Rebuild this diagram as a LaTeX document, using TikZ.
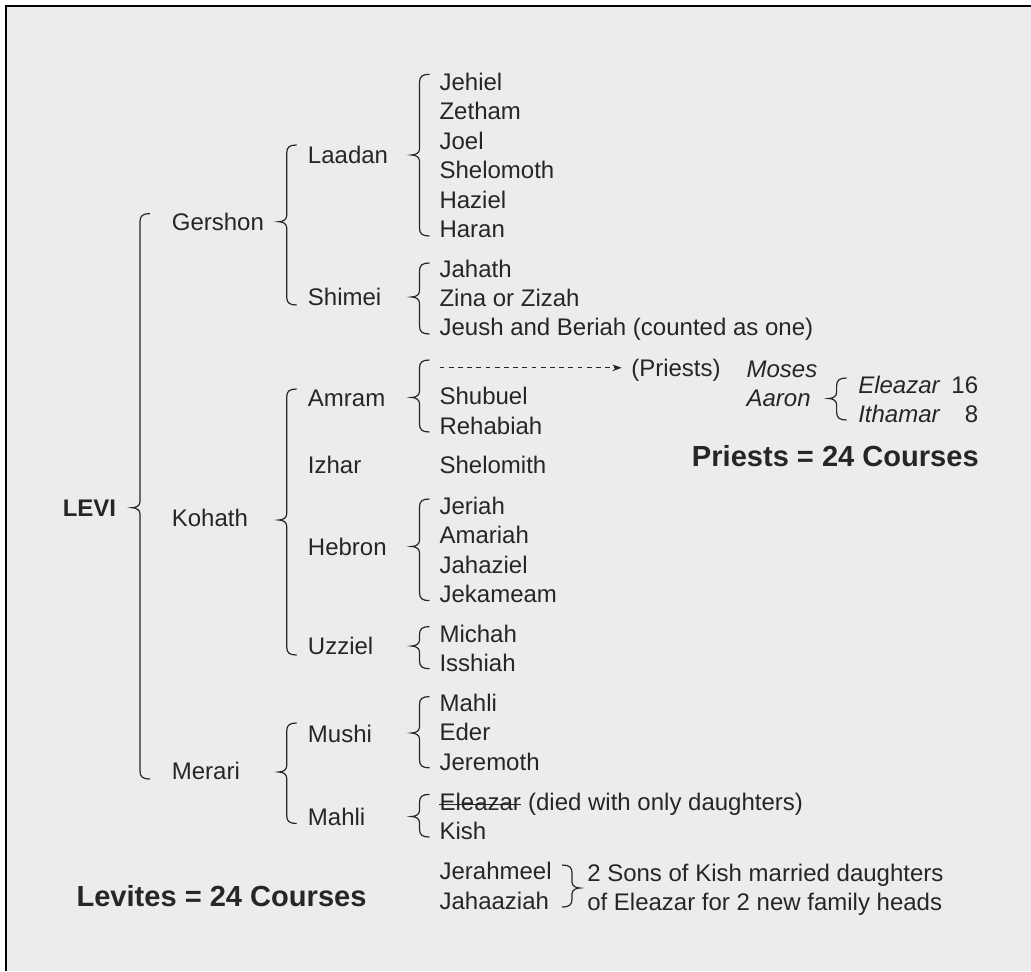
\documentclass[tikz,border=0pt]{standalone}
\usepackage{fontspec}
\setmainfont{Liberation Sans}
\usetikzlibrary{arrows.meta}
\definecolor{bg}{HTML}{ECECEC}
\definecolor{ink}{HTML}{262626}
% #1 sign (1 = opening brace, -1 = closing), #2 x of stem, #3 top, #4 bottom, #5 cusp y
\newcommand{\brc}[5]{%
  \draw[bracestyle] ({#2+10*(#1)},#3) .. controls ({#2+3*(#1)},#3) and (#2,#3+2) .. (#2,#3+8)
   -- (#2,#5-6) .. controls (#2,#5-2) and ({#2-4*(#1)},#5) .. ({#2-8*(#1)},#5)
   .. controls ({#2-4*(#1)},#5) and (#2,#5+2) .. (#2,#5+6)
   -- (#2,#4-8) .. controls (#2,#4-2) and ({#2+3*(#1)},#4) .. ({#2+10*(#1)},#4);}
\tikzset{
  bracestyle/.style={draw=ink, line width=0.9pt},
  lbl/.style={anchor=west, inner sep=0pt, text=ink, font=\fontsize{18}{22}\selectfont, text height=12.9pt, text depth=0pt},
  lblr/.style={lbl, anchor=east},
  big/.style={anchor=west, inner sep=0pt, text=ink, font=\fontsize{21.8}{26}\selectfont\bfseries, text height=15.6pt, text depth=0pt},
  dasharrow/.style={draw=ink, line width=0.75pt, dash pattern=on 3.6pt off 3.3pt, -{Stealth[length=7pt,width=5pt]}, shorten >=7pt}
}
\begin{document}
\begin{tikzpicture}[x=0.75pt,y=-0.75pt]
\useasboundingbox (0,0) rectangle (1031,971);
\fill[white] (0,0) rectangle (1031,971);
\fill[bg] (6,6) rectangle (1031,971);
\draw[black, line width=2.2pt] (6,971) -- (6,6) -- (1031,6);

% level 0
\node[lbl, font=\fontsize{18}{22}\selectfont\bfseries] (levi) at (62.5,507.7) {LEVI};
% level 1
\node[lbl] (gershon) at (171.6,221.7) {Gershon};
\node[lbl] (kohath) at (171.6,517.6) {Kohath};
\node[lbl] (merari) at (171.6,770.9) {Merari};
% level 2
\node[lbl] (laadan) at (307.7,154.8) {Laadan};
\node[lbl] (shimei) at (307.7,296.6) {Shimei};
\node[lbl] (amram) at (307.7,397.5) {Amram};
\node[lbl] (izhar) at (307.7,464.4) {Izhar};
\node[lbl] (hebron) at (307.7,546.7) {Hebron};
\node[lbl] (uzziel) at (307.7,645.8) {Uzziel};
\node[lbl] (mushi) at (307.7,733.7) {Mushi};
\node[lbl] (mahli) at (307.7,816.7) {Mahli};
% level 3
\node[lbl] (jehiel) at (439.3,81.5) {Jehiel};
\node[lbl] (zetham) at (439.3,111) {Zetham};
\node[lbl] (joel) at (439.3,140.5) {Joel};
\node[lbl] (shelomoth) at (439.3,170) {Shelomoth};
\node[lbl] (haziel) at (439.3,199.5) {Haziel};
\node[lbl] (haran) at (439.3,229) {Haran};
\node[lbl] (jahath) at (439.3,268.7) {Jahath};
\node[lbl] (zina) at (439.3,297.8) {Zina or Zizah};
\node[lbl] (jeush) at (439.3,326.9) {Jeush and Beriah (counted as one)};
\coordinate (arrS) at (439.5,367.8);
\node[lbl] (pr) at (631,367.8) {(Priests)};
\draw[dasharrow] (arrS) -- (pr.west);
\node[lbl] (shubuel) at (439.3,396.3) {Shubuel};
\node[lbl] (rehabiah) at (439.3,425.4) {Rehabiah};
\node[lbl] (shelomith) at (439.3,465) {Shelomith};
\node[lbl] (jeriah) at (439.3,505.9) {Jeriah};
\node[lbl] (amariah) at (439.3,535.2) {Amariah};
\node[lbl] (jahaziel) at (439.3,564.5) {Jahaziel};
\node[lbl] (jekameam) at (439.3,593.8) {Jekameam};
\node[lbl] (michah) at (439.3,633.4) {Michah};
\node[lbl] (isshiah) at (439.3,662.5) {Isshiah};
\node[lbl] (mahlib) at (439.3,702.8) {Mahli};
\node[lbl] (eder) at (439.3,732.2) {Eder};
\node[lbl] (jeremoth) at (439.3,761.6) {Jeremoth};
\node[lbl] (eleazarx) at (439.3,801.9) {Eleazar};
\node[lbl, anchor=west] (died) at ([xshift=5pt]eleazarx.east) {(died with only daughters)};
\draw[draw=ink, line width=0.8pt] ([yshift=-1.6pt]eleazarx.west) -- ([yshift=-1.6pt]eleazarx.east);
\node[lbl] (kish) at (439.3,830.8) {Kish};
\node[lbl] (jerahmeel) at (439.3,870.6) {Jerahmeel};
\node[lbl] (jahaaziah) at (439.3,901) {Jahaaziah};
\node[lbl] (sons) at (587,872.4) {2 Sons of Kish married daughters};
\node[lbl] (ofel) at (587,901.5) {of Eleazar for 2 new family heads};
% priests
\node[lbl, font=\fontsize{18}{22}\selectfont\itshape] (moses) at (746.3,368.5) {Moses};
\node[lbl, font=\fontsize{18}{22}\selectfont\itshape] (aaron) at (746.3,398.2) {Aaron};
\node[lbl, font=\fontsize{18}{22}\selectfont\itshape] (eleazarp) at (858,385) {Eleazar};
\node[lblr] (n16) at (978.4,385) {16};
\node[lbl, font=\fontsize{18}{22}\selectfont\itshape] (ithamar) at (858,413.6) {Ithamar};
\node[lblr] (n8) at (978.4,413.6) {8};
\node[big] (priests) at (691.7,456.5) {Priests = 24 Courses};
\node[big] (levites) at (76.3,896) {Levites = 24 Courses};

% braces
\brc{1}{140}{213.6}{779}{507.7}
\brc{1}{286.7}{145}{305}{221.7}
\brc{1}{286.7}{389}{655}{520}
\brc{1}{286.7}{723}{823.5}{772}
\brc{1}{419.5}{74.3}{236}{155}
\brc{1}{419.5}{263}{334}{297}
\brc{1}{419.5}{360}{432}{397.5}
\brc{1}{419.5}{499}{600.6}{546.5}
\brc{1}{419.5}{626.6}{668.7}{646}
\brc{1}{419.5}{696.6}{767.8}{733}
\brc{1}{419.5}{794.4}{837}{816.5}
\brc{1}{836.6}{378}{420}{398.5}
\brc{-1}{572}{865}{907}{888}
\end{tikzpicture}
\end{document}
